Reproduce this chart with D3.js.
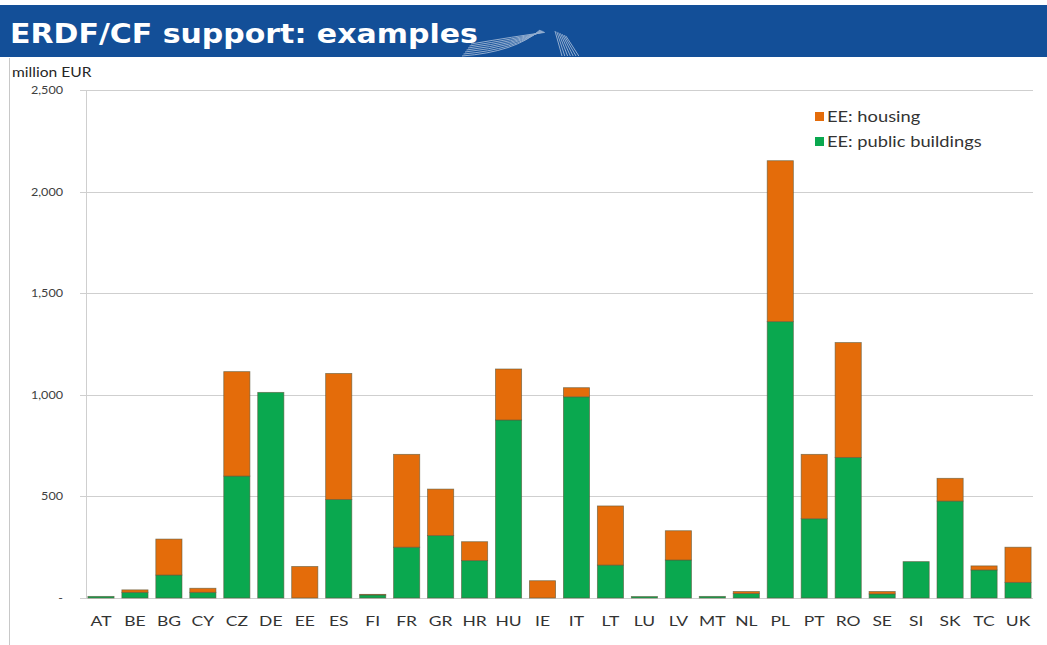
<!DOCTYPE html>
<html>
<head>
<meta charset="utf-8">
<script src="https://cdn.jsdelivr.net/npm/d3@7/dist/d3.min.js"></script>
<style>
  html, body { margin: 0; padding: 0; background: #fff; }
  svg { display: block; }
</style>
</head>
<body>
<svg id="chart" width="1047" height="645"></svg>
<script>
// Member states / programme codes along the x axis
const countries = ["AT","BE","BG","CY","CZ","DE","EE","ES","FI","FR","GR","HR","HU","IE",
                   "IT","LT","LU","LV","MT","NL","PL","PT","RO","SE","SI","SK","TC","UK"];
// Energy efficiency support, million EUR
const publicBuildings = [8, 28, 113, 28, 600, 1012, 0, 485, 15, 250, 307, 184, 876, 0,
                         990, 162, 7, 187, 8, 22, 1360, 390, 692, 20, 179, 477, 138, 77];
const housing         = [0, 12, 177, 20, 514, 0, 155, 620, 3, 457, 229, 93, 251, 85,
                         45, 291, 0, 144, 0, 10, 792, 317, 565, 12, 0, 112, 20, 173];
const yTicks = [0, 500, 1000, 1500, 2000, 2500];
const seriesNames = ["EE: public buildings", "EE: housing"];
const seriesColors = ["#0aa84f", "#e46c0a"];

const svg = d3.select("#chart");
const W = 1047, H = 645;
const LABEL_FONT = "Lato, 'Open Sans', sans-serif";

// Text placed at (x, y) and widened horizontally by sx
function wideText(parent, x, y, sx, str, opts) {
  const g = parent.append("g").attr("transform", `translate(${x},${y}) scale(${sx},1)`);
  return g.append("text")
    .attr("text-anchor", opts.anchor || "start")
    .attr("fill", opts.fill || "#333")
    .style("font-family", opts.family || LABEL_FONT)
    .style("font-size", opts.size + "px")
    .style("font-weight", opts.weight || "normal")
    .text(str);
}

// Title banner
svg.append("rect").attr("x", 0).attr("y", 5).attr("width", W).attr("height", 52)
  .attr("fill", "#134f98");

// Stylised building emblem in the banner
const emb = svg.append("g").attr("fill", "none").attr("stroke", "#c9d6e8")
  .attr("stroke-width", 1).attr("opacity", 0.7);
for (let i = 0; i < 7; i++) {
  emb.append("path").attr("d",
    `M${462 + i * 1.5},${56 - i * 2} Q${515},${52 - i * 2.6} ${540 + i * 0.8},${30 + i * 0.4}`);
}
for (let i = 0; i < 7; i++) {
  emb.append("path").attr("d",
    `M${555 + i * 1.8},${31 + i * 0.8} L${562 + i * 2.8},${56}`);
}

wideText(svg, 10, 43, 1.11, "ERDF/CF support: examples",
  { size: 27, weight: "bold", fill: "#ffffff", family: "'DejaVu Sans', Verdana, sans-serif" });

// Frame line on the left
svg.append("line").attr("x1", 9.5).attr("x2", 9.5).attr("y1", 58).attr("y2", H)
  .attr("stroke", "#c8c8c8");

const plot = { top: 90, bottom: 598 };

const x = d3.scaleBand().domain(countries)
  .range([84, 1035]).paddingInner(0.23).paddingOuter(0.115);
const y = d3.scaleLinear().domain([0, 2500]).range([plot.bottom, plot.top]);

// Gridlines
svg.append("g").selectAll("line").data(yTicks).join("line")
  .attr("x1", 80).attr("x2", 1033)
  .attr("y1", d => Math.round(y(d)) + 0.5).attr("y2", d => Math.round(y(d)) + 0.5)
  .attr("stroke", "#cfcfcf").attr("stroke-width", 1);

// Y axis line
svg.append("line").attr("x1", 86.5).attr("x2", 86.5)
  .attr("y1", plot.top).attr("y2", plot.bottom)
  .attr("stroke", "#cfcfcf");

// Y tick labels
const fmt = d3.format(",");
const yLab = svg.append("g");
yTicks.forEach(t => {
  wideText(yLab, 63, y(t) + 4, 1.05, t === 0 ? "-" : fmt(t),
    { size: 12, anchor: "end", fill: "#404040" });
});

wideText(svg, 12, 77, 1.2, "million EUR", { size: 13, fill: "#262626" });

// Stacked bars
const rows = countries.map((c, i) => ({ c, pb: publicBuildings[i], h: housing[i] }));
const layers = d3.stack().keys(["pb", "h"])(rows);

svg.append("g").selectAll("g").data(layers).join("g")
  .attr("fill", (d, i) => seriesColors[i])
  .selectAll("rect").data(d => d.filter(s => s[1] - s[0] > 0)).join("rect")
  .attr("x", d => x(d.data.c))
  .attr("width", x.bandwidth())
  .attr("y", d => y(d[1]))
  .attr("height", d => y(d[0]) - y(d[1]))
  .attr("stroke", "#5b5a3c").attr("stroke-width", 0.8).attr("stroke-opacity", 0.7);

// Category labels
const xLab = svg.append("g");
countries.forEach(c => {
  wideText(xLab, x(c) + x.bandwidth() / 2, 626, 1.25, c,
    { size: 14, anchor: "middle", fill: "#333333" });
});

// Legend
const legendItems = [
  { name: seriesNames[1], color: seriesColors[1] },
  { name: seriesNames[0], color: seriesColors[0] }
];
const lg = svg.append("g").attr("transform", "translate(815,112)");
lg.selectAll("rect").data(legendItems).join("rect")
  .attr("x", 0).attr("y", (d, i) => i * 25)
  .attr("width", 9).attr("height", 9)
  .attr("fill", d => d.color);
legendItems.forEach((d, i) => {
  wideText(lg, 12, i * 25 + 9.5, 1.22, d.name, { size: 15, fill: "#333333" });
});
</script>
</body>
</html>
